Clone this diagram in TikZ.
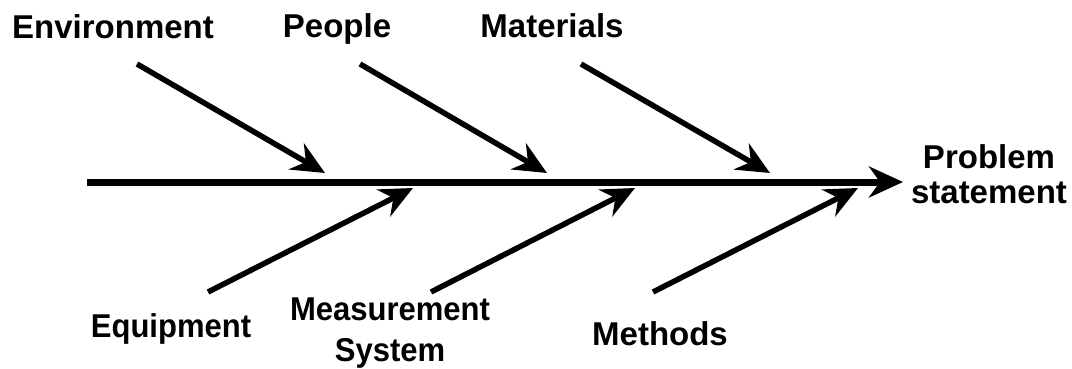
\documentclass[tikz,border=0pt]{standalone}
\usepackage{fontspec}
\setmainfont{Liberation Sans}
\usetikzlibrary{arrows.meta}
\begin{document}
\begin{tikzpicture}[x=1pt,y=-1pt,
  lbl/.style={font=\bfseries\fontsize{33}{35}\selectfont, inner sep=0pt, anchor=base, align=center},
  spine/.style={line width=7pt, -{Stealth[length=34pt,width=31pt,inset=11pt]}},
  bone/.style={line width=5.5pt, -{Stealth[length=33pt,width=30pt,inset=11pt]}}]
\useasboundingbox[fill=white] (0,0) rectangle (1072,369);
% spine
\coordinate (tail) at (87,182);
\node[lbl] (problem) at (989,203) {Problem\\statement};
\coordinate (head) at (903,182);
\draw[spine] (tail) -- (head);
% upper bones
\coordinate (s1) at (137,64); \coordinate (t1) at (325,173);
\coordinate (s2) at (360,64); \coordinate (t2) at (547,173);
\coordinate (s3) at (581,64); \coordinate (t3) at (770,173);
\draw[bone] (s1) -- (t1);
\draw[bone] (s2) -- (t2);
\draw[bone] (s3) -- (t3);
% lower bones
\coordinate (s4) at (208,292); \coordinate (t4) at (413,188);
\coordinate (s5) at (431,292); \coordinate (t5) at (635,188);
\coordinate (s6) at (653,292); \coordinate (t6) at (858,188);
\draw[bone] (s4) -- (t4);
\draw[bone] (s5) -- (t5);
\draw[bone] (s6) -- (t6);
% labels
\node[lbl] (env) at (113,39) {Environment};
\node[lbl] (people) at (337,38) {People};
\node[lbl] (mat) at (552,38) {Materials};
\node[lbl, xscale=0.94] (equip) at (171,337) {Equipment};
\node[lbl, xscale=0.94] (meas) at (390,361) {Measurement\\[6pt]System};
\node[lbl] (meth) at (660,345) {Methods};
\end{tikzpicture}
\end{document}
